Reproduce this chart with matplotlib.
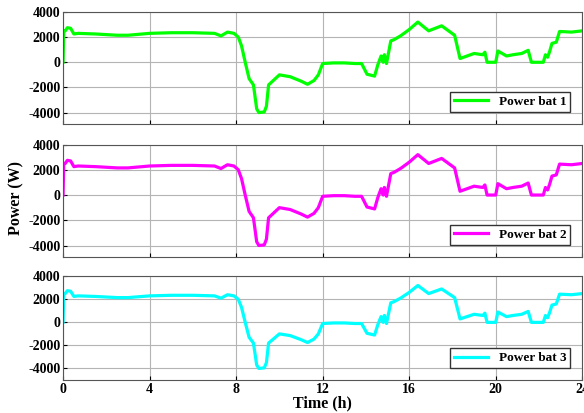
import matplotlib.pyplot as plt

plt.rcParams['font.family'] = ['Liberation Serif', 'DejaVu Serif']
plt.rcParams['font.weight'] = 'bold'
plt.rcParams['axes.unicode_minus'] = False

# time (h) and battery power (W)
hours = [0, 0.03, 0.1, 0.2, 0.35, 0.5, 0.7, 1.5, 2.5, 3.0, 4.0, 5.0, 6.0, 7.0,
         7.3, 7.6, 7.9, 8.1, 8.25, 8.42, 8.6, 8.8, 8.95, 9.05, 9.3, 9.4, 9.5,
         10.0, 10.5, 11.0, 11.3, 11.6, 11.8, 12.0, 12.5, 13.0, 13.5, 13.8,
         14.05, 14.4, 14.55, 14.7, 14.8, 14.85, 14.95, 15.15, 15.3, 15.6,
         16.0, 16.4, 16.9, 17.5, 18.1, 18.35, 19.0, 19.4, 19.5, 19.6, 19.7,
         20.0, 20.1, 20.5, 20.8, 21.2, 21.5, 21.65, 22.2, 22.3, 22.4, 22.5,
         22.6, 22.8, 22.95, 23.5, 24.0]
bat1 = [0, 2500, 2500, 2750, 2700, 2250, 2300, 2250, 2150, 2150, 2300, 2350, 2350, 2300,
        2100, 2400, 2300, 2000, 1300, 0, -1300, -1800, -3700, -4000, -3950, -3500, -1800,
        -1000, -1150, -1500, -1750, -1450, -1000, -100, -50, -50, -100, -100,
        -950, -1100, -200, 500, 0, 600, -100, 1700, 1800, 2100,
        2600, 3200, 2500, 2900, 2150, 300, 700, 600, 800, 0, 0,
        0, 900, 500, 600, 700, 950, 0, 0, 600, 400, 900,
        1500, 1600, 2450, 2400, 2500]
bat2 = list(bat1)
bat3 = list(bat1)

series = [(bat1, '#00ff00', 'Power bat 1', -4900),
          (bat2, '#ff00ff', 'Power bat 2', -4900),
          (bat3, '#00ffff', 'Power bat 3', -5000)]

fig = plt.figure(figsize=(5.84, 4.13), dpi=100)
boxes = [(0.700, 0.971), (0.378, 0.650), (0.080, 0.331)]
for i, ((vals, col, lab, ymin), (b, t)) in enumerate(zip(series, boxes)):
    ax = fig.add_axes([0.108, b, 0.889, t - b])
    ax.plot(hours, vals, color=col, lw=2.3, label=lab)
    ax.set_xlim(0, 24)
    ax.set_ylim(ymin, 4000)
    ax.set_xticks(range(0, 25, 4))
    ax.set_yticks([-4000, -2000, 0, 2000, 4000])
    ax.grid(True, color='#b4b4b4', lw=0.8)
    ax.tick_params(direction='in', length=3, labelsize=10, pad=2)
    for s in ax.spines.values():
        s.set_color('#555555')
    if i < 2:
        ax.set_xticklabels([])
    else:
        ax.set_xlabel('Time (h)', fontsize=11.5, fontweight='bold', labelpad=0)
    ax.legend(loc='lower right', fontsize=9.5, handlelength=2.6, fancybox=False,
              edgecolor='#333333', framealpha=1, borderpad=0.3,
              borderaxespad=0.9)

fig.text(0.028, 0.52, 'Power (W)', rotation=90, fontsize=11.5, fontweight='bold',
         ha='center', va='center')

fig.savefig('out.png', dpi=100)
